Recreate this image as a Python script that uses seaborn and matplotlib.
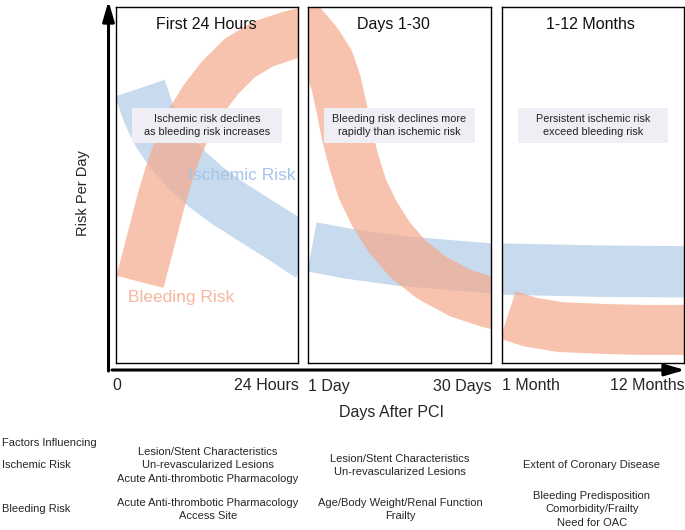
import matplotlib
matplotlib.use("Agg")
import matplotlib.pyplot as plt
from matplotlib.patches import Rectangle
import pandas as pd
import seaborn as sns

# ---- data: band centerlines per period (x = share of the period, y = relative risk per day)
isch_24h_x = [0.132, 0.176, 0.231, 0.302, 0.390, 0.495, 0.615, 0.753, 0.918, 1.066]
isch_24h_y = [0.772, 0.705, 0.646, 0.593, 0.542, 0.494, 0.449, 0.404, 0.351, 0.301]
bleed_24h_x = [0.132, 0.170, 0.209, 0.247, 0.291, 0.341, 0.401, 0.478, 0.571, 0.681, 0.808, 0.956, 1.121]
bleed_24h_y = [0.228, 0.303, 0.379, 0.455, 0.531, 0.604, 0.674, 0.739, 0.801, 0.857, 0.896, 0.921, 0.941]

isch_30d_x = [0.022, 0.230, 0.503, 0.776, 1.049]
isch_30d_y = [0.326, 0.306, 0.287, 0.275, 0.264]
bleed_30d_x = [-0.208, -0.115, -0.033, 0.049, 0.115, 0.153, 0.186, 0.213, 0.251, 0.295,
               0.361, 0.443, 0.546, 0.678, 0.831, 0.995, 1.131]
bleed_30d_y = [1.062, 1.006, 0.949, 0.899, 0.846, 0.787, 0.711, 0.640, 0.565, 0.492,
               0.421, 0.354, 0.292, 0.239, 0.197, 0.169, 0.154]

isch_12m_x = [-0.038, 0.264, 0.538, 1.033]
isch_12m_y = [0.264, 0.261, 0.258, 0.256]
bleed_12m_x = [0.033, 0.154, 0.319, 0.538, 0.758, 1.033]
bleed_12m_y = [0.135, 0.115, 0.101, 0.096, 0.093, 0.093]

periods = ["First 24 Hours", "Days 1-30", "1-12 Months"]
messages = ["Ischemic risk declines\nas bleeding risk increases",
            "Bleeding risk declines more\nrapidly than ischemic risk",
            "Persistent ischemic risk\nexceed bleeding risk"]
tick_labels = [("0", "24 Hours"), ("1 Day", "30 Days"), ("1 Month", "12 Months")]

ischemic_factors = ["Lesion/Stent Characteristics\nUn-revascularized Lesions\nAcute Anti-thrombotic Pharmacology",
                    "Lesion/Stent Characteristics\nUn-revascularized Lesions",
                    "Extent of Coronary Disease"]
bleeding_factors = ["Acute Anti-thrombotic Pharmacology\nAccess Site",
                    "Age/Body Weight/Renal Function\nFrailty",
                    "Bleeding Predisposition\nComorbidity/Frailty\nNeed for OAC"]

BLUE = "#C8DAEE"
SALMON = "#F5AB8D"

sns.set_theme(style="white")
plt.rcParams["font.family"] = ["Liberation Sans", "DejaVu Sans"]

W, H = 685, 530
fig = plt.figure(figsize=(W / 100, H / 100), dpi=100)

# background axes in pixel units for the arrows and outer text
bg = fig.add_axes([0, 0, 1, 1])
bg.set_xlim(0, W)
bg.set_ylim(H, 0)
bg.axis("off")

# panel boxes (pixels: left, right)
boxes = [(116, 298), (308, 491), (502, 684)]
top, bottom = 7, 363

bands = [
    ((isch_24h_x, isch_24h_y, 37.5), (bleed_24h_x, bleed_24h_y, 35)),
    ((isch_30d_x, isch_30d_y, 36), (bleed_30d_x, bleed_30d_y, 36.5)),
    ((isch_12m_x, isch_12m_y, 37), (bleed_12m_x, bleed_12m_y, 36)),
]
title_x = [0.495, 0.467, 0.484]

for i, (x0, x1) in enumerate(boxes):
    ax = fig.add_axes([x0 / W, 1 - bottom / H, (x1 - x0) / W, (bottom - top) / H])
    ax.set_xlim(0, 1)
    ax.set_ylim(0, 1)
    ax.set_xticks([])
    ax.set_yticks([])
    ax.patch.set_alpha(0)
    for s in ax.spines.values():
        s.set_color("black")
        s.set_linewidth(1.0)
        s.set_zorder(6)

    (ix, iy, iw), (bx, by, bw) = bands[i]
    isch = pd.DataFrame({"x": ix, "y": iy})
    bleed = pd.DataFrame({"x": bx, "y": by})
    sns.lineplot(data=isch, x="x", y="y", ax=ax, sort=False, estimator=None,
                 color=BLUE, linewidth=iw, solid_capstyle="butt",
                 solid_joinstyle="round", zorder=1)
    sns.lineplot(data=bleed, x="x", y="y", ax=ax, sort=False, estimator=None,
                 color=SALMON, alpha=0.71, linewidth=bw, solid_capstyle="butt",
                 solid_joinstyle="round", zorder=2)
    ax.set_xlabel("")
    ax.set_ylabel("")
    ax.set_xlim(0, 1)
    ax.set_ylim(0, 1)

    ax.text(title_x[i], 0.952, periods[i], transform=ax.transAxes,
            ha="center", va="center", fontsize=11.5, color="#111111")
    ax.add_patch(Rectangle((0.088, 0.618), 0.824, 0.098, transform=ax.transAxes,
                           facecolor="#EEEEF4", edgecolor="none", zorder=4))
    ax.text(0.5, 0.667, messages[i], transform=ax.transAxes, ha="center",
            va="center", fontsize=7.8, color="#222222", linespacing=1.35, zorder=5)

    if i == 0:
        ax.text(0.989, 0.528, "Ischemic Risk", transform=ax.transAxes, ha="right",
                va="center", fontsize=12.5, color="#A4C4E8", zorder=5)
        ax.text(0.066, 0.183, "Bleeding Risk", transform=ax.transAxes, ha="left",
                va="center", fontsize=12.5, color="#F5B79E", zorder=5)

# axis arrows
arrow = dict(arrowstyle="-|>,head_length=1.2,head_width=0.35", lw=2.2,
             color="black", shrinkA=0, shrinkB=0, mutation_scale=10)
bg.annotate("", xy=(108.5, 1), xytext=(108.5, 371), arrowprops=arrow)
bg.annotate("", xy=(685, 370), xytext=(112, 370), arrowprops=arrow)

# period tick labels
for (x0, x1), (lo, hi) in zip(boxes, tick_labels):
    if lo == "0":
        bg.text(x0 + 1, 386, lo, ha="center", va="center", fontsize=11.5)
    else:
        bg.text(x0, 386, lo, ha="left", va="center", fontsize=11.5)
    bg.text(x1 + 1, 386, hi, ha="right", va="center", fontsize=11.5)

bg.text(392, 412, "Days After PCI", ha="center", va="center", fontsize=11.5)
bg.text(83, 193, "Risk Per Day", ha="center", va="center", fontsize=10.5, rotation=90)

# factors table
bg.text(2, 443, "Factors Influencing", ha="left", va="center", fontsize=8)
bg.text(2, 465, "Ischemic Risk", ha="left", va="center", fontsize=8)
bg.text(2, 509, "Bleeding Risk", ha="left", va="center", fontsize=8)
col_x = [208, 400, 592]
for cx, isch_txt, bleed_txt in zip(col_x, ischemic_factors, bleeding_factors):
    bg.text(cx, 465.5, isch_txt, ha="center", va="center", fontsize=8, linespacing=1.45)
    bg.text(cx, 509.5, bleed_txt, ha="center", va="center", fontsize=8, linespacing=1.45)

fig.savefig("out.png", dpi=100)
